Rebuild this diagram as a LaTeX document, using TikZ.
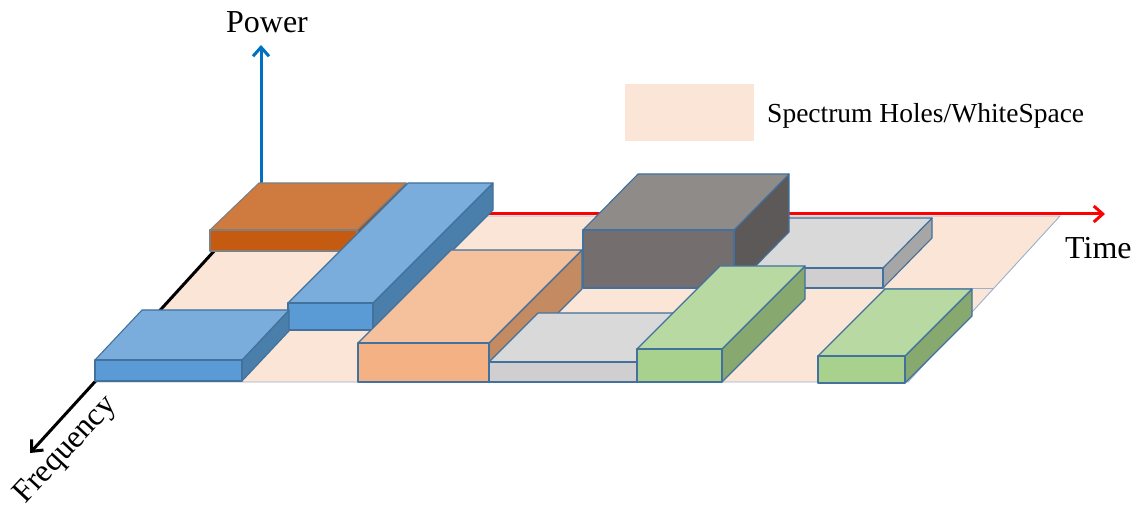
\documentclass[tikz,border=0pt]{standalone}
\usepackage{fontspec}
\setmainfont{Liberation Serif}
\usetikzlibrary{arrows.meta}
\definecolor{floorc}{HTML}{FBE5D6}
\definecolor{floorline}{HTML}{9AB0CC}
\definecolor{bord}{HTML}{41719C}
\definecolor{bordgray}{HTML}{7F7F7F}
\definecolor{blueTop}{HTML}{7AADDC}
\definecolor{blueFront}{HTML}{5B9BD5}
\definecolor{blueSide}{HTML}{4A7EAB}
\definecolor{orTop}{HTML}{CF7A3F}
\definecolor{orFront}{HTML}{C55A11}
\definecolor{orSide}{HTML}{A84C0E}
\definecolor{peTop}{HTML}{F5C19D}
\definecolor{peFront}{HTML}{F4B183}
\definecolor{peSide}{HTML}{C48A62}
\definecolor{lgTop}{HTML}{D9D9D9}
\definecolor{lgFront}{HTML}{D0CECE}
\definecolor{lgSide}{HTML}{A6A6A6}
\definecolor{dkTop}{HTML}{8F8B89}
\definecolor{dkFront}{HTML}{746F6E}
\definecolor{dkSide}{HTML}{5D5958}
\definecolor{grTop}{HTML}{B9D9A3}
\definecolor{grFront}{HTML}{A9D18E}
\definecolor{grSide}{HTML}{87A86F}
\definecolor{powblue}{HTML}{0070C0}
% #1 x1, #2 x2, #3 ytop, #4 ybot, #5 dx, #6 dy, #7 colour prefix, #8 border
\newcommand\mycuboid[8]{%
  \filldraw[fill=#7Side, draw=#8, boxline] (#2,#3) -- ++(#5,#6) -- ++(0,#4-#3) -- (#2,#4) -- cycle;
  \filldraw[fill=#7Top, draw=#8, boxline] (#1,#3) -- (#2,#3) -- ++(#5,#6) -- ++(#1-#2,0) -- cycle;
  \filldraw[fill=#7Front, draw=#8, boxline] (#1,#3) rectangle (#2,#4);
}
\begin{document}
\begin{tikzpicture}[x=1pt,y=-1pt,
  boxline/.style={line width=1.1pt, line join=round},
  axisline/.style={line width=3pt, -{Straight Barb[length=9pt,width=16pt]}},
  lbl/.style={inner sep=0pt, font=\fontsize{32}{38}\selectfont}]
\useasboundingbox (0,0) rectangle (1140,510);

% floor
\coordinate (floorFL) at (95,382);
\coordinate (floorFR) at (908,382);
\coordinate (floorBR) at (1060,216);
\coordinate (floorBL) at (247,216);
\filldraw[fill=floorc, draw=floorline, line width=0.9pt] (floorFL) -- (floorFR) -- (floorBR) -- (floorBL) -- cycle;
\coordinate (gridA) at (734,288);
\coordinate (gridB) at (994,288);
\draw[floorline, line width=0.9pt] (gridA) -- (gridB);

% axes
\coordinate (timeStart) at (250,214);
\coordinate (timeTip) at (1105,214);
\draw[axisline, red] (timeStart) -- (timeTip);
\coordinate (powBase) at (261,200);
\coordinate (powTip) at (261,45);
\draw[axisline, powblue] (powBase) -- (powTip);
\coordinate (freqStart) at (246,216);
\coordinate (freqTip) at (30,453);
\draw[axisline, black] (freqStart) -- (freqTip);

% boxes (back to front)
\mycuboid{210}{357}{230}{251}{49}{-47}{or}{bordgray}
\mycuboid{288}{373}{303}{330}{120}{-120}{blue}{bord}
\mycuboid{700}{883}{268}{288}{49}{-50}{lg}{bord}
\mycuboid{583}{734}{230}{288}{55}{-56}{dk}{bord}
\mycuboid{358}{489}{343}{382}{93}{-93}{pe}{bord}
\mycuboid{95}{242}{360}{381}{47}{-50}{blue}{bord}
\mycuboid{489}{637}{362}{382}{49}{-49}{lg}{bord}
\mycuboid{637}{722}{349}{382}{83}{-83}{gr}{bord}
\mycuboid{818}{905}{356}{383}{67}{-67}{gr}{bord}

% labels
\node[lbl, anchor=base] (power) at (267,33) {Power};
\node[lbl, anchor=base west] (time) at (1065,259) {Time};
\node[lbl, anchor=base west, rotate=47] (freq) at (25,505) {Frequency};
\node[fill=floorc, minimum width=129pt, minimum height=57pt, inner sep=0pt, anchor=north west] (legendbox) at (625,84) {};
\node[inner sep=0pt, font=\fontsize{27.5}{33}\selectfont, anchor=base west] (legendtext) at (767,123) {Spectrum Holes/WhiteSpace};
\end{tikzpicture}
\end{document}
